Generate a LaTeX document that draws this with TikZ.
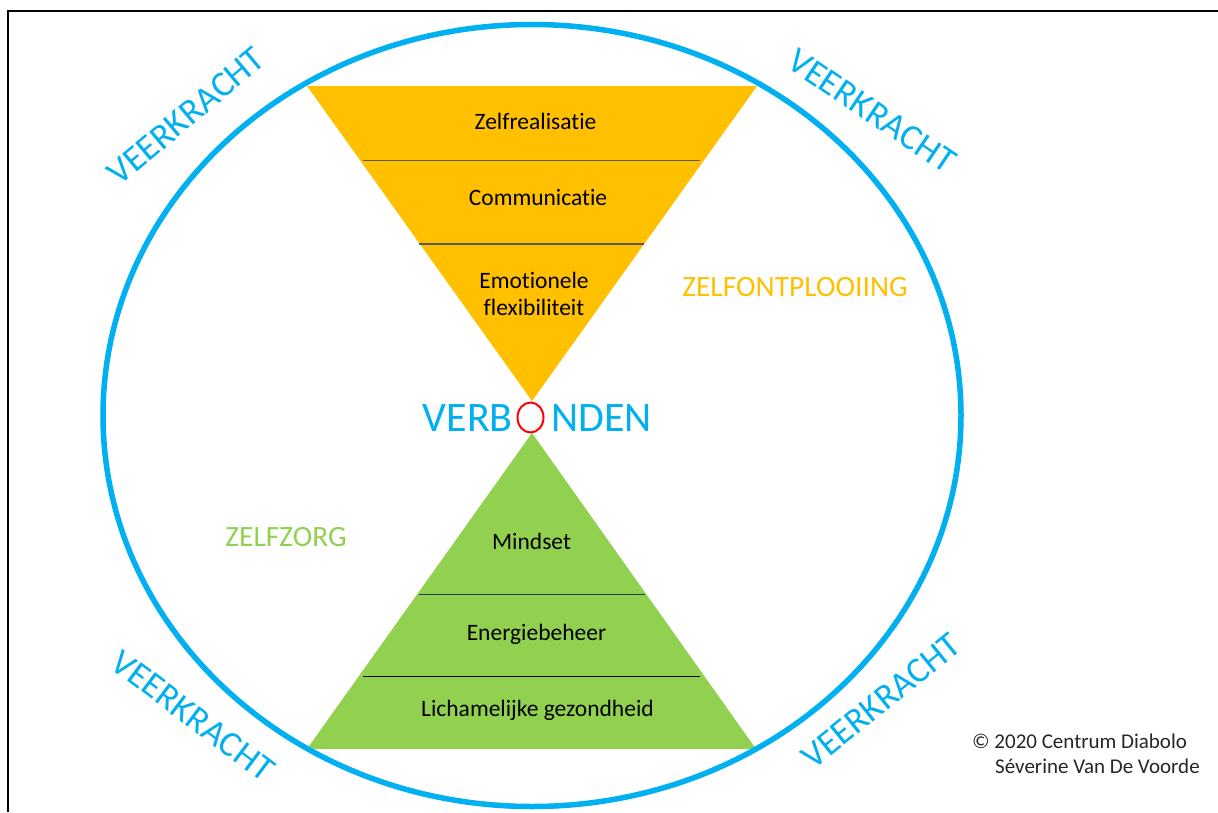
\documentclass[tikz,border=0pt]{standalone}
\usepackage{fontspec}
\setmainfont{Carlito}[Ligatures=NoCommon]
\usetikzlibrary{shapes.geometric}
\definecolor{cblue}{HTML}{00B0F0}
\definecolor{cyellow}{HTML}{FFC000}
\definecolor{cgreen}{HTML}{92D050}
\definecolor{cgray}{HTML}{595959}
\definecolor{cnavy}{HTML}{203864}
\definecolor{ctext}{HTML}{262626}
\begin{document}
\begin{tikzpicture}[x=1pt,y=-1pt,
  layertext/.style={anchor=base, inner sep=0pt, text=black, font=\fontsize{23.5}{28}\selectfont},
  resil/.style={inner sep=0pt, text=cblue, font=\fontsize{36}{40}\selectfont},
  zone/.style={anchor=base, inner sep=0pt, font=\fontsize{29.5}{34}\selectfont},
  bigword/.style={inner sep=0pt, text=cblue, font=\fontsize{42}{50}\selectfont},
  credit/.style={anchor=base west, inner sep=0pt, text=ctext, font=\fontsize{21}{25}\selectfont}]
\useasboundingbox (0,0) rectangle (1218,812);
\fill[white] (0,0) rectangle (1218,812);
% frame
\draw[line width=2.5pt] (8,812) -- (8,11) -- (1218,11);
% triangles
\fill[cyellow] (307,86) -- (757,86) -- (532,401) -- cycle;
\fill[cgreen] (532,433) -- (756,749) -- (307,749) -- cycle;
% dividers
\draw[cgray, line width=1.6pt] (363,160.5) -- (700,160.5);
\draw[cgray, line width=1.6pt] (419,244) -- (644,244);
\draw[cnavy, line width=1pt] (419,594) -- (645,594);
\draw[black, line width=1pt] (363,676) -- (700,676);
% outer ellipse
\draw[cblue, line width=5.5pt] (532,415.5) ellipse [x radius=429pt, y radius=391pt];
% layer texts
\node[layertext] (zr) at (535.5,129) {Zelfrealisatie};
\node[layertext] (com) at (538,205) {Communicatie};
\node[layertext] (emo) at (534,288) {Emotionele};
\node[layertext] (flex) at (534,315) {flexibiliteit};
\node[layertext] (mind) at (531.5,549) {Mindset};
\node[layertext] (ener) at (536.5,640) {Energiebeheer};
\node[layertext] (lich) at (537.5,716) {Lichamelijke gezondheid};
% zones
\node[zone, text=cyellow] (zo) at (795,296) {ZELFONTPLOOIING};
\node[zone, text=cgreen] (zz) at (286,546) {ZELFZORG};
% verbonden
\node[draw=red, line width=2pt, ellipse, minimum width=26pt, minimum height=30pt, inner sep=0pt] (ring) at (530.5,417.5) {};
\node[bigword, anchor=base east] (verb) at (513,431) {VERB};
\node[bigword, anchor=base west] (nden) at (551,431) {NDEN};
% veerkracht
\node[resil, rotate=40] (vk1) at (186,116) {VEERKRACHT};
\node[resil, rotate=-34] (vk2) at (872,111) {VEERKRACHT};
\node[resil, rotate=-37] (vk3) at (193,716) {VEERKRACHT};
\node[resil, rotate=39] (vk4) at (881,701) {VEERKRACHT};
% credits
\node[credit] (c1) at (972,748) {© 2020 Centrum Diabolo};
\node[credit] (c2) at (995,773) {Séverine Van De Voorde};
\end{tikzpicture}
\end{document}
